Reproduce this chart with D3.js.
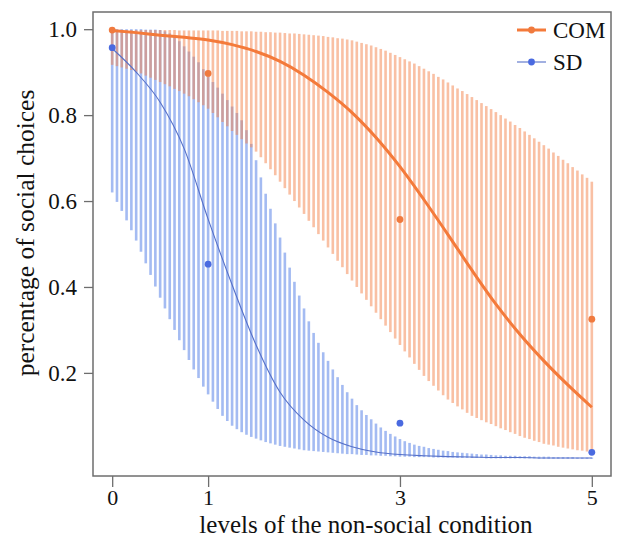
<!DOCTYPE html>
<html><head><meta charset="utf-8">
<script src="https://cdn.jsdelivr.net/npm/d3@7/dist/d3.min.js"></script>
<style>html,body{margin:0;padding:0;background:#fff;}svg{display:block;}</style>
</head><body>
<svg id="chart" width="619" height="539"></svg>
<script>
// ---------- DATA ----------
const xTicks = [0, 1, 3, 5];
const yTicks = [0.2, 0.4, 0.6, 0.8, 1.0];
const yTickLabels = ["0.2", "0.4", "0.6", "0.8", "1.0"];
const seriesNames = ["COM", "SD"];

// observed points
const obsX = [0, 1, 3, 5];
const comObs = [0.998, 0.897, 0.557, 0.325];
const sdObs = [0.957, 0.453, 0.083, 0.015];

// fitted curves (x step 0.25)
const curveX = [0,0.25,0.5,0.75,1,1.25,1.5,1.75,2,2.25,2.5,2.75,3,3.25,3.5,3.75,4,4.25,4.5,4.75,5];
const comFit = [0.997,0.992,0.986,0.981,0.975,0.964,0.948,0.925,0.893,0.853,0.806,0.748,0.680,0.603,0.522,0.439,0.360,0.290,0.228,0.172,0.120];
const sdFit  = [0.955,0.900,0.830,0.722,0.558,0.405,0.265,0.155,0.090,0.050,0.028,0.016,0.010,0.007,0.005,0.004,0.003,0.003,0.002,0.002,0.002];

// credible bands (x step 0.05, 101 stripes)
const comUpper = [
0.998,0.998,0.998,0.998,0.998,0.998,0.998,0.998,0.998,0.998,0.998,0.998,0.998,0.998,0.997,0.997,0.997,0.997,0.997,0.997,0.997,
0.997,0.997,0.996,0.996,0.996,0.996,0.995,0.995,0.995,0.994,
0.994,0.993,0.993,0.992,0.992,0.991,0.990,0.990,0.989,0.988,
0.987,0.986,0.985,0.984,0.982,0.981,0.979,0.978,0.976,0.974,
0.971,0.968,0.965,0.962,0.958, 0.954,0.950,0.945,0.940,0.935,
0.930,0.925,0.920,0.914,0.908, 0.902,0.896,0.889,0.883,0.876,
0.869,0.862,0.856,0.849,0.842, 0.835,0.828,0.821,0.814,0.807,
0.800,0.792,0.785,0.777,0.770, 0.762,0.754,0.746,0.738,0.730,
0.722,0.713,0.705,0.696,0.688, 0.679,0.671,0.662,0.654,0.645];
const comLower = [
0.917,0.914,0.911,0.908,0.905,0.901,
0.897,0.892,0.887,0.882,0.877, 0.872,0.867,0.861,0.856,0.850,
0.844,0.837,0.830,0.823,0.815, 0.805,0.795,0.784,0.774,0.763,
0.754,0.744,0.734,0.725,0.715, 0.702,0.688,0.674,0.660,0.645,
0.630,0.615,0.600,0.585,0.570, 0.554,0.539,0.523,0.508,0.492,
0.477,0.461,0.446,0.430,0.415, 0.400,0.385,0.370,0.355,0.340,
0.325,0.310,0.295,0.280,0.265, 0.250,0.236,0.221,0.207,0.193,
0.181,0.170,0.159,0.148,0.138, 0.130,0.122,0.115,0.107,0.100,
0.095,0.090,0.085,0.081,0.076, 0.071,0.067,0.062,0.058,0.053,
0.049,0.046,0.042,0.039,0.035, 0.033,0.031,0.028,0.026,0.024,
0.022,0.020,0.019,0.017,0.015];
const sdUpper = [
1.000,1.000,1.000,1.000,1.000,1.000,1.000,0.999,0.999,0.999,0.998,
0.995,0.990,0.983,0.972,0.960, 0.948,0.936,0.923,0.907,0.890,
0.877,0.864,0.850,0.835,0.820, 0.805,0.788,0.765,0.733,0.695,
0.655,0.617,0.582,0.548,0.515, 0.480,0.445,0.412,0.380,0.350,
0.320,0.293,0.270,0.248,0.228, 0.208,0.190,0.172,0.155,0.140,
0.125,0.113,0.102,0.092,0.082, 0.073,0.065,0.058,0.052,0.046,
0.041,0.037,0.033,0.030,0.028, 0.025,0.023,0.021,0.019,0.018,
0.016,0.015,0.014,0.013,0.012, 0.011,0.010,0.010,0.009,0.008,
0.008,0.007,0.007,0.007,0.006, 0.006,0.006,0.005,0.005,0.005,
0.005,0.004,0.004,0.004,0.004, 0.004,0.003,0.003,0.003,0.003];
const sdLower = [
0.620,0.598,0.577,0.555,0.532,0.508,0.482,0.455,0.428,0.401,
0.375,0.350,0.325,0.300,0.276,0.253,0.230,0.208,0.188,0.168,
0.150,0.133,0.116,0.100,0.088,0.077,0.069,0.062,0.056,0.051,
0.047,0.043,0.039,0.036,0.033,0.030,0.028,0.026,0.024,0.022,0.020,
0.019,0.018,0.017,0.016,0.015, 0.014,0.013,0.012,0.011,0.011,
0.010,0.009,0.009,0.008,0.008, 0.007,0.007,0.006,0.006,0.005,
0.005,0.005,0.004,0.004,0.004, 0.004,0.003,0.003,0.003,0.003,
0.003,0.002,0.002,0.002,0.002, 0.002,0.002,0.001,0.001,0.001,
0.001,0.001,0.001,0.001,0.001, 0.001,0.001,0.001,0.000,0.000,
0.000,0.000,0.000,0.000,0.000, 0.000,0.000,0.000,0.000,0.000];
const bandX = d3.range(101).map(i => i * 0.05);

// ---------- LAYOUT ----------
const svg = d3.select("#chart");
const box = {l: 93, r: 611, t: 12, b: 476};
const x = d3.scaleLinear().domain([-0.2, 5.2]).range([box.l, box.r]);
const y = d3.scaleLinear().domain([-0.04, 1.04]).range([box.b, box.t]);
const font = "'Liberation Serif','Times New Roman',serif";

const C = {
  comBand: "rgba(243,129,73,0.5)",
  sdBand: "rgba(74,120,230,0.5)",
  comLine: "#f47a3a",
  sdLine: "#5670c8",
  comPt: "#f07a3e",
  sdPt: "#4a6ae0"
};

// bands as stripes
const stripeW = 2.6;
function stripes(lower, upper, color) {
  svg.append("g").selectAll("rect").data(bandX).join("rect")
    .attr("x", (d) => x(d) - stripeW / 2)
    .attr("width", stripeW)
    .attr("y", (d, i) => y(upper[i]))
    .attr("height", (d, i) => Math.max(0.6, y(lower[i]) - y(upper[i])))
    .attr("fill", color);
}
stripes(sdLower, sdUpper, C.sdBand);
stripes(comLower, comUpper, C.comBand);

// fitted lines
const line = d3.line().x(d => x(d[0])).y(d => y(d[1])).curve(d3.curveMonotoneX);
svg.append("path").datum(curveX.map((v, i) => [v, sdFit[i]]))
  .attr("d", line).attr("fill", "none").attr("stroke", C.sdLine).attr("stroke-width", 1.1);
svg.append("path").datum(curveX.map((v, i) => [v, comFit[i]]))
  .attr("d", line).attr("fill", "none").attr("stroke", C.comLine).attr("stroke-width", 3);

// observed points
svg.append("g").selectAll("circle").data(obsX).join("circle")
  .attr("cx", d => x(d)).attr("cy", (d, i) => y(comObs[i])).attr("r", 3.4).attr("fill", C.comPt);
svg.append("g").selectAll("circle").data(obsX).join("circle")
  .attr("cx", d => x(d)).attr("cy", (d, i) => y(sdObs[i])).attr("r", 3.4).attr("fill", C.sdPt);

// box
svg.append("rect").attr("x", box.l).attr("y", box.t)
  .attr("width", box.r - box.l).attr("height", box.b - box.t)
  .attr("fill", "none").attr("stroke", "#6e6e6e").attr("stroke-width", 1.5);

// axes
const xAxis = d3.axisBottom(x).tickValues(xTicks).tickFormat(d3.format("d")).tickSize(11).tickPadding(2);
const gx = svg.append("g").attr("transform", `translate(0,${box.b})`).call(xAxis);
gx.select(".domain").remove();
gx.selectAll("line").attr("stroke", "#6e6e6e").attr("stroke-width", 1.3);
gx.selectAll("text").attr("font-family", font).attr("font-size", 22).attr("fill", "#111");

const yAxis = d3.axisLeft(y).tickValues(yTicks).tickFormat((d, i) => yTickLabels[i]).tickSize(9).tickPadding(7);
const gy = svg.append("g").attr("transform", `translate(${box.l},0)`).call(yAxis);
gy.select(".domain").remove();
gy.selectAll("line").attr("stroke", "#6e6e6e").attr("stroke-width", 1.3);
gy.selectAll("text").attr("font-family", font).attr("font-size", 23).attr("fill", "#111");

// titles
svg.append("text").attr("x", 366).attr("y", 533).attr("text-anchor", "middle")
  .attr("font-family", font).attr("font-size", 25).attr("fill", "#111")
  .text("levels of the non-social condition");
svg.append("text").attr("transform", "translate(34,233) rotate(-90)").attr("text-anchor", "middle")
  .attr("font-family", font).attr("font-size", 25.5).attr("fill", "#111")
  .text("percentage of social choices");

// legend
const leg = svg.append("g");
const legY = [30, 62];
const legC = [C.comLine, C.sdLine];
const legPt = [C.comPt, C.sdPt];
const legW = [3, 1.1];
seriesNames.forEach((name, i) => {
  leg.append("line").attr("x1", 517).attr("x2", 546).attr("y1", legY[i]).attr("y2", legY[i])
    .attr("stroke", legC[i]).attr("stroke-width", legW[i]);
  leg.append("circle").attr("cx", 531.5).attr("cy", legY[i]).attr("r", 3.4).attr("fill", legPt[i]);
  leg.append("text").attr("x", 553).attr("y", legY[i] + 8).attr("font-family", font)
    .attr("font-size", 23).attr("fill", "#111").text(name);
});
</script>
</body></html>
